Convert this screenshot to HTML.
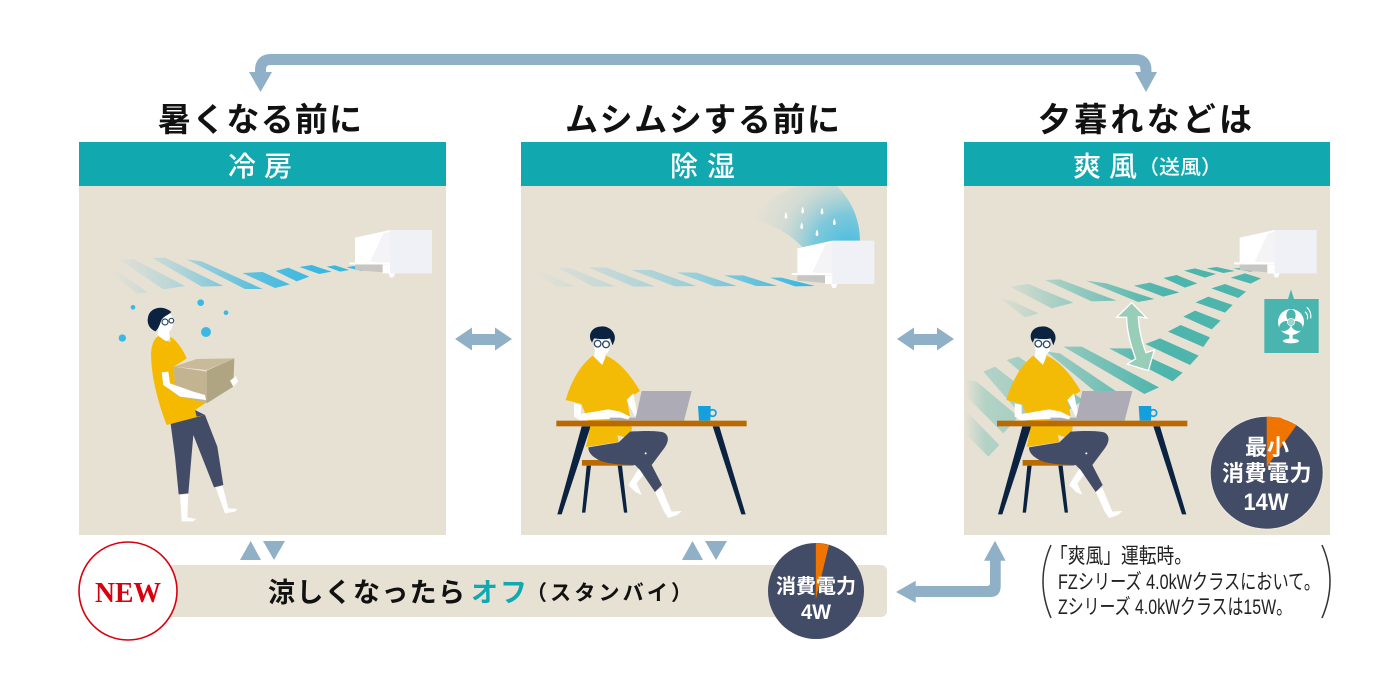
<!DOCTYPE html>
<html lang="ja"><head><meta charset="utf-8"><title>冷房・除湿・爽風</title>
<style>
html,body{margin:0;padding:0;background:#fff;width:1400px;height:700px;overflow:hidden}
svg{display:block}
text{font-family:"Liberation Sans","Noto Sans CJK JP",sans-serif}
.h{font-size:33px;font-weight:700;fill:#111}
.t{font-size:28px;font-weight:500;fill:#fff}
.w{fill:#fff;font-weight:700;text-anchor:middle}
</style></head><body>
<svg width="1400" height="700" viewBox="0 0 1400 700" xmlns="http://www.w3.org/2000/svg">
<defs>
<linearGradient id="b1" gradientUnits="userSpaceOnUse" x1="90" y1="0" x2="700" y2="0"><stop offset="0" stop-color="#3bb8e0" stop-opacity="0"/><stop offset=".3" stop-color="#3bb8e0" stop-opacity=".25"/><stop offset=".7" stop-color="#3bb8e0" stop-opacity=".8"/><stop offset="1" stop-color="#3bb8e0"/></linearGradient>
<linearGradient id="b2" gradientUnits="userSpaceOnUse" x1="40" y1="0" x2="850" y2="0"><stop offset="0" stop-color="#3bb8e0" stop-opacity="0"/><stop offset=".6" stop-color="#3bb8e0" stop-opacity=".45"/><stop offset="1" stop-color="#3bb8e0"/></linearGradient>
<linearGradient id="g3" gradientUnits="userSpaceOnUse" x1="100" y1="0" x2="620" y2="0"><stop offset="0" stop-color="#3cb0a8" stop-opacity="0"/><stop offset=".4" stop-color="#3cb0a8" stop-opacity=".4"/><stop offset=".9" stop-color="#3cb0a8" stop-opacity=".85"/><stop offset="1" stop-color="#3cb0a8" stop-opacity=".9"/></linearGradient>
<linearGradient id="g4" gradientUnits="userSpaceOnUse" x1="15" y1="0" x2="620" y2="0"><stop offset="0" stop-color="#3cb0a8" stop-opacity="0"/><stop offset=".1" stop-color="#3cb0a8" stop-opacity=".3"/><stop offset=".5" stop-color="#3cb0a8" stop-opacity=".5"/><stop offset=".9" stop-color="#3cb0a8" stop-opacity=".85"/><stop offset="1" stop-color="#3cb0a8" stop-opacity=".9"/></linearGradient>
<radialGradient id="fan" gradientUnits="userSpaceOnUse" cx="985" cy="175" r="300"><stop offset="0" stop-color="#45bbe2"/><stop offset=".35" stop-color="#6cc4dc" stop-opacity=".85"/><stop offset=".7" stop-color="#a9cfd0" stop-opacity=".3"/><stop offset="1" stop-color="#a9cfd0" stop-opacity="0"/></radialGradient>

<g id="ac">
<polygon points="825,143 930,120 930,220 825,220" fill="#fff"/>
<polygon points="870,215 910,130 930,125 930,220" fill="#f4f4f6"/>
<polygon points="930,120 1056,120 1056,250 930,250" fill="#f0f1f6"/>
<polygon points="808,217 930,217 930,223 808,223" fill="#fff"/>
<polygon points="825,224 908,224 908,247 825,240" fill="#c8c6c2"/>
<polygon points="908,224 930,224 930,250 945,250 940,262 930,262 926,250 908,250" fill="#fff"/>
</g>

<g id="seat">
<polygon points="185,709 212,709 125,973 112,973" fill="#0b2340"/>
<polygon points="578,709 598,709 677,973 664,973" fill="#0b2340"/>
<polygon points="200,827 213,827 196,968 186,968" fill="#0b2340"/>
<polygon points="293,827 306,827 322,968 312,968" fill="#0b2340"/>
<rect x="186" y="810" width="155" height="17" fill="#b96a00"/>
<path d="M360,830 L380,842 L350,880 L365,915 L345,905 L325,885Z" fill="#fff"/>
<path d="M405,905 L425,893 L455,965 L485,963 L472,975 L445,984 L432,965Z" fill="#fff"/>
<path d="M225,480 L258,480 L256,505 L245,527 L222,500Z" fill="#fff"/>
<path d="M218,497 L247,525 L258,497 C300,515 335,560 360,603 L321,628 L336,715 L328,746 L292,735 L296,756 L198,771 L211,708 L184,642 L137,630 C150,585 175,530 218,497Z" fill="#f3bb05"/>
<path d="M162,640 L183,645 L183,672 L265,658 L300,665 L330,680 L325,688 L300,685 L180,691 L162,680Z" fill="#fff"/>
<path d="M320,630 L340,610 L352,670 L345,680Z" fill="#fff"/>
<path d="M205,772 L296,757 L330,725 C370,722 410,722 430,727 C448,735 448,755 430,778 L395,825 L426,885 L405,906 L360,840 L345,825 C310,825 270,823 240,812 C218,800 205,790 205,772Z" fill="#434c66"/>
<circle cx="377" cy="790" r="3" fill="#fff"/>
<polygon points="365,603 515,603 492,692 345,692" fill="#adacb6"/>
<polygon points="270,683 346,683 346,692 268,692" fill="#adacb6"/>
<path d="M300,668 L330,680 L325,688 L298,682Z" fill="#fff"/>
<rect x="109" y="692" width="571" height="17" fill="#b96a00"/>
<path d="M534,648 L572,648 L571,692 L537,692Z" fill="#159fdc"/>
<circle cx="578" cy="669" r="10" fill="none" stroke="#159fdc" stroke-width="5"/>
<ellipse cx="246" cy="465" rx="24" ry="32" fill="#fff"/>
<path d="M212,450 C205,430 218,412 240,410 C262,404 290,425 284,450 L278,466 L270,445 C255,449 235,447 222,445 L216,458Z" fill="#0b2340"/>
<circle cx="233" cy="461" r="10" fill="#fff" stroke="#2e4a68" stroke-width="4"/>
<circle cx="258" cy="463" r="10" fill="#fff" stroke="#2e4a68" stroke-width="4"/>
</g>
</defs>

<!-- panels -->
<rect x="79" y="142" width="367" height="44" fill="#12a8b0"/>
<rect x="521" y="142" width="366" height="44" fill="#12a8b0"/>
<rect x="964" y="142" width="366" height="44" fill="#12a8b0"/>
<rect x="79" y="186" width="367" height="349" fill="#e7e1d4"/>
<rect x="521" y="186" width="366" height="349" fill="#e7e1d4"/>
<rect x="964" y="186" width="366" height="349" fill="#e7e1d4"/>

<!-- top arrow -->
<path d="M260.5,75 V70 Q260.5,59.5 271,59.5 H1135.5 Q1146,59.5 1146,70 V75" fill="none" stroke="#8fb0c6" stroke-width="11"/>
<polygon points="249,72 272,72 260.5,92" fill="#8fb0c6"/>
<polygon points="1135,72 1157,72 1146,92" fill="#8fb0c6"/>

<!-- headings -->
<text class="h" x="158" y="131" textLength="204">暑くなる前に</text>
<text class="h" x="565" y="131" textLength="275">ムシムシする前に</text>
<text class="h" x="1038" y="131" textLength="214">夕暮れなどは</text>
<text class="t" x="228" y="176" textLength="64">冷房</text>
<text class="t" x="670" y="176" textLength="65">除湿</text>
<text class="t" x="1073" y="176" textLength="64">爽風</text>
<text x="1138" y="174" font-size="20" font-weight="500" fill="#fff" textLength="84" lengthAdjust="spacingAndGlyphs">（送風）</text>

<!-- panel 1 -->
<g transform="translate(80,190) scale(.33333)">
<g fill="url(#b1)">
<polygon points="800,232 820,228 870,236 845,243"/>
<polygon points="740,230 765,226 808,240 780,245"/>
<polygon points="658,231 695,225 755,245 718,252"/>
<polygon points="587,243 625,233 688,260 650,274"/>
<polygon points="487,249 548,246 630,283 585,294"/>
<polygon points="320,208 365,214 548,297 495,297"/>
<polygon points="217,204 255,203 430,288 365,290"/>
<polygon points="120,210 160,207 315,288 250,298"/>
<polygon points="85,245 115,245 205,308 170,310"/>
</g>
<use href="#ac"/>
<g fill="#3bb8e4"><circle cx="159" cy="352" r="7"/><circle cx="362" cy="338" r="10"/><circle cx="438" cy="368" r="7"/><circle cx="378" cy="426" r="15"/><circle cx="127" cy="444" r="11"/></g>
<path d="M300,915 L325,912 L322,982 L348,987 L340,994 L305,994Z" fill="#fff"/>
<path d="M407,892 L428,888 L445,955 L472,957 L465,965 L435,970Z" fill="#fff"/>
<path d="M272,702 L345,660 L375,675 L412,770 L430,885 L402,892 L340,735 L325,910 L296,913 L285,800Z" fill="#434c66"/>
<path d="M235,415 L265,410 L270,445 L258,455 L232,435Z" fill="#fff"/>
<path d="M235,438 L255,452 L272,456 L270,440 C290,450 310,480 320,505 L282,530 L285,610 L378,638 L345,660 L350,680 L375,675 L260,705 C235,640 213,560 213,490 C215,465 222,445 235,438Z" fill="#f5ba00"/>
<ellipse cx="255" cy="397" rx="24" ry="33" fill="#fff"/>
<path d="M204,382 C208,355 245,342 274,366 C262,378 248,378 242,396 C238,408 234,418 226,424 C208,416 200,400 204,382Z" fill="#0b2340"/>
<circle cx="255" cy="396" r="9" fill="#fff" stroke="#2e4a68" stroke-width="3.5"/>
<circle cx="274" cy="392" r="7" fill="#fff" stroke="#2e4a68" stroke-width="3.5"/>
<polygon points="282,530 350,507 463,505 380,540" fill="#c9bb99"/>
<polygon points="282,530 380,545 380,640 285,615" fill="#c2b391"/>
<polygon points="380,542 463,505 460,590 380,640" fill="#b0a582"/>
<path d="M245,547 L265,545 L270,580 L340,605 L375,615 L378,630 L340,625 L300,620 L250,585Z" fill="#fff"/>
<polygon points="450,572 468,558 474,575 460,590" fill="#fff"/>
</g>

<!-- panel 2 -->
<g transform="translate(520,190) scale(.33333)">
<path d="M950,-12 C995,30 1020,90 1020,152 L848,172 C810,130 750,100 690,85 C720,50 780,5 830,-12Z" fill="url(#fan)"/>
<g fill="#fff">
<path d="M798,66 C803,76 804,86 798,86 C792,86 793,76 798,66Z"/><path d="M848,50 C853,60 854,70 848,70 C842,70 843,60 848,50Z"/><path d="M906,53 C911,63 912,73 906,73 C900,73 901,63 906,53Z"/><path d="M845,97 C850,107 851,117 845,117 C839,117 840,107 845,97Z"/><path d="M943,85 C948,95 949,105 943,105 C937,105 938,95 943,85Z"/><path d="M891,118 C896,128 897,138 891,138 C885,138 886,128 891,118Z"/>
</g>
<g fill="url(#b2)">
<polygon points="750,263 785,263 885,288 825,289"/>
<polygon points="612,256 670,256 772,288 708,288"/>
<polygon points="470,247 530,248 650,288 585,289"/>
<polygon points="335,240 395,240 528,288 465,289"/>
<polygon points="205,232 258,232 405,289 340,290"/>
<polygon points="110,232 150,234 285,289 220,290"/>
<polygon points="35,245 70,248 165,290 110,290"/>
</g>
<use href="#ac" x="7" y="32"/>
<use href="#seat"/>
</g>

<!-- panel 3 -->
<g transform="translate(960,190) scale(.33333)">
<g fill="url(#g3)">
<polygon points="820,236 850,233 905,240 870,245"/>
<polygon points="740,235 770,231 825,243 790,249"/>
<polygon points="672,242 705,235 768,252 735,263"/>
<polygon points="610,264 650,255 712,280 675,293"/>
<polygon points="522,287 570,278 658,307 610,320"/>
<polygon points="378,272 440,280 583,327 535,336"/>
<polygon points="255,270 300,268 470,332 395,334"/>
<polygon points="150,290 205,282 340,338 275,355"/>
<polygon points="120,325 150,330 235,370 195,382"/>
</g>
<g fill="url(#g4)">
<polygon points="812,263 855,250 903,265 872,281"/>
<polygon points="754,295 795,282 858,305 835,324"/>
<polygon points="707,337 745,320 818,345 795,368"/>
<polygon points="670,380 705,362 782,392 755,418"/>
<polygon points="624,425 662,405 750,442 730,471"/>
<polygon points="556,462 600,445 716,497 690,525"/>
<polygon points="447,475 510,475 668,548 638,574"/>
<polygon points="310,470 365,470 597,592 553,612"/>
<polygon points="260,485 300,490 470,605 430,625"/>
<polygon points="140,510 175,500 370,630 320,665"/>
<polygon points="70,545 105,530 260,650 205,700"/>
<polygon points="20,570 50,575 175,680 130,730 20,620"/>
<polygon points="20,665 118,765 85,800 20,735"/>
</g>
<path d="M515,338 L560,384 L535,380 C537,420 545,455 558,488 L583,480 L565,542 L502,522 L527,506 C512,465 500,420 500,382 L470,382Z" fill="#98cdb8" stroke="#fff" stroke-width="4"/>
<use href="#ac" x="14"/>
<polygon points="993,298 1002,327 984,327" fill="#4ab5ae"/>
<rect x="913" y="327" width="163" height="162" fill="#4ab5ae"/>
<circle cx="993" cy="396" r="39" fill="#fff"/>
<g fill="#4ab5ae">
<ellipse cx="993" cy="376" rx="14" ry="18"/>
<ellipse cx="975" cy="408" rx="14" ry="18" transform="rotate(60 975 408)"/>
<ellipse cx="1011" cy="408" rx="14" ry="18" transform="rotate(-60 1011 408)"/>
</g>
<circle cx="993" cy="396" r="11" fill="#9fd6d1" stroke="#fff" stroke-width="2"/>
<rect x="988" y="434" width="10" height="16" fill="#fff"/>
<ellipse cx="993" cy="453" rx="24" ry="7" fill="#fff"/>
<path d="M1035,365 A22,22 0 0 1 1042,388 M1040,352 A34,34 0 0 1 1052,385" fill="none" stroke="#fff" stroke-width="3.5"/>
<use href="#seat" x="2"/>
</g>
<circle cx="1266.7" cy="472.7" r="56.5" fill="#434c66" stroke="#f0ebdf" stroke-width="1"/>
<polygon points="1266.7,416.5 1280,417.5 1296.7,425 1266.7,467" fill="#f07400"/>
<text class="w" x="1267" y="455" font-size="22">最小</text>
<text class="w" x="1267" y="481" font-size="22" letter-spacing=".5">消費電力</text>
<text class="w" x="1266" y="510" font-size="24" textLength="45" lengthAdjust="spacingAndGlyphs">14W</text>

<!-- horizontal arrows -->
<path d="M455,339 L472,327.5 V334 H495 V327.5 L512,339 L495,350.5 V345 H472 V350.5Z" fill="#8fb0c6"/>
<path d="M897,339 L914,327.5 V334 H937 V327.5 L954,339 L937,350.5 V345 H914 V350.5Z" fill="#8fb0c6"/>

<!-- triangles -->
<g fill="#8fb0c6">
<polygon points="240,560 250.7,541 261,560"/><polygon points="263,541 285,541 274,560"/>
<polygon points="682,560 692.5,541 703,560"/><polygon points="705,541 727,541 716,560"/>
</g>

<!-- bottom bar -->
<rect x="150" y="565" width="737" height="52" rx="6" fill="#e7e1d4"/>
<circle cx="128" cy="591" r="49" fill="#fff" stroke="#d7000f" stroke-width="1.6"/>
<text x="95" y="602" font-size="29" font-weight="700" fill="#d7000f" style="font-family:'Liberation Serif',serif" textLength="66" lengthAdjust="spacingAndGlyphs">NEW</text>
<text x="268" y="602" font-size="27" font-weight="700" fill="#111" textLength="197">涼しくなったら</text>
<text x="471" y="602" font-size="27" font-weight="700" fill="#12a8b0" textLength="56">オフ</text>
<text x="526" y="600" font-size="21" font-weight="700" fill="#111" textLength="166">（スタンバイ）</text>

<circle cx="816" cy="591" r="48" fill="#434c66"/>
<polygon points="815.8,543 829,544.8 815.8,599" fill="#f07400"/>
<text class="w" x="816" y="593" font-size="20">消費電力</text>
<text class="w" x="816" y="619" font-size="21" textLength="30" lengthAdjust="spacingAndGlyphs">4W</text>

<!-- L arrow -->
<path d="M896,592 L915.7,580.7 V586 H987 Q990,586 990,583 V560.7 H984 L995,540.7 L1005.6,560.7 H1000.7 V586 Q1000.7,597 990,597 H915.7 V602.7Z" fill="#8fb0c6"/>

<!-- note -->
<path d="M1051,545 Q1035,581 1051,618" fill="none" stroke="#333" stroke-width="1.5"/>
<path d="M1322,545 Q1338,581 1322,618" fill="none" stroke="#333" stroke-width="1.5"/>
<g font-size="21" fill="#222">
<text x="1050" y="563" textLength="142" lengthAdjust="spacingAndGlyphs">「爽風」運転時。</text>
<text x="1058" y="589" textLength="262" lengthAdjust="spacingAndGlyphs">FZシリーズ 4.0kWクラスにおいて。</text>
<text x="1058" y="614" textLength="234" lengthAdjust="spacingAndGlyphs">Zシリーズ 4.0kWクラスは15W。</text>
</g>
</svg>
</body></html>
